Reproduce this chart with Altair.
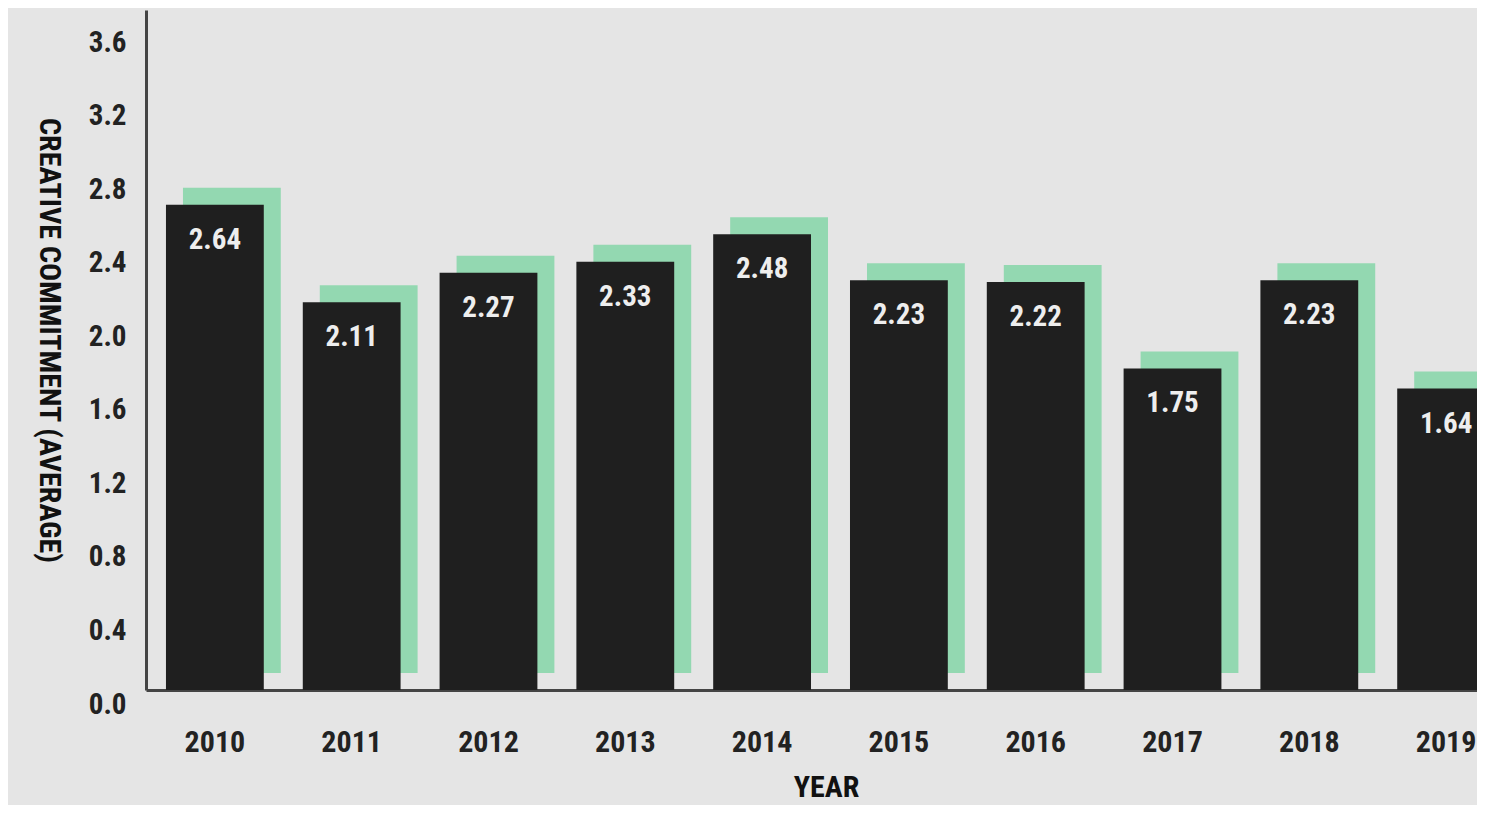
import altair as alt
import pandas as pd

years = ["2010", "2011", "2012", "2013", "2014", "2015", "2016", "2017", "2018", "2019"]
values = [2.64, 2.11, 2.27, 2.33, 2.48, 2.23, 2.22, 1.75, 2.23, 1.64]
y_ticks = [0.0, 0.4, 0.8, 1.2, 1.6, 2.0, 2.4, 2.8, 3.2, 3.6]

df = pd.DataFrame({"year": years, "value": values})

FONT = "Roboto Condensed, Roboto, sans-serif"
BLACK = "#1f1f1f"
GREEN = "#93d8b1"

x_enc = alt.X(
    "year:N",
    title="YEAR",
    scale=alt.Scale(range=[0, 1369], paddingInner=0.285, paddingOuter=0.146),
    axis=alt.Axis(
        labelAngle=0, ticks=False, labelPadding=37, labelFontSize=30,
        labelFont=FONT, labelFontWeight="bold", labelColor="#222222",
        titleFont=FONT, titleFontSize=30, titleFontWeight="bold", titleColor="#111111",
        titlePadding=15, titleX=680, titleAnchor="middle",
        domainColor="#444444", domainWidth=3,
    ),
)
y_enc = alt.Y(
    "value:Q",
    title="CREATIVE COMMITMENT (AVERAGE)",
    scale=alt.Scale(domain=[0, 3.7], nice=False),
    axis=alt.Axis(
        values=y_ticks, format=".1f", ticks=False, grid=False,
        labelPadding=20, labelOffset=14, labelFontSize=29,
        labelFont=FONT, labelFontWeight="bold", labelColor="#222222",
        titleFont=FONT, titleFontSize=30, titleFontWeight="bold", titleColor="#111111",
        titleAngle=90, titleX=-98, titleY=330, titleAlign="center", titleBaseline="middle",
        domainColor="#444444", domainWidth=3,
    ),
)

base = alt.Chart(df)

shadow = base.mark_bar(
    color=GREEN, xOffset=17, x2Offset=17, yOffset=-17, y2Offset=-17
).encode(x=x_enc, y=y_enc)

bars = base.mark_bar(color=BLACK).encode(x=x_enc, y=y_enc)

labels = base.mark_text(
    color="#eeeeee", font=FONT, fontSize=29, fontWeight="bold",
    baseline="middle", align="center", dy=35
).encode(x=x_enc, y=y_enc, text=alt.Text("value:Q", format=".2f"))

chart = (
    alt.layer(shadow, bars, labels)
    .properties(
        width=1331, height=680,
        autosize=alt.AutoSizeParams(type="none"),
        padding={"left": 138, "top": 2, "right": 0, "bottom": 115},
        background="#e5e5e5",
    )
    .configure_view(stroke=None, fill="#e5e5e5")
)

chart.save("out.html", embed_options={"renderer": "svg", "actions": False})
